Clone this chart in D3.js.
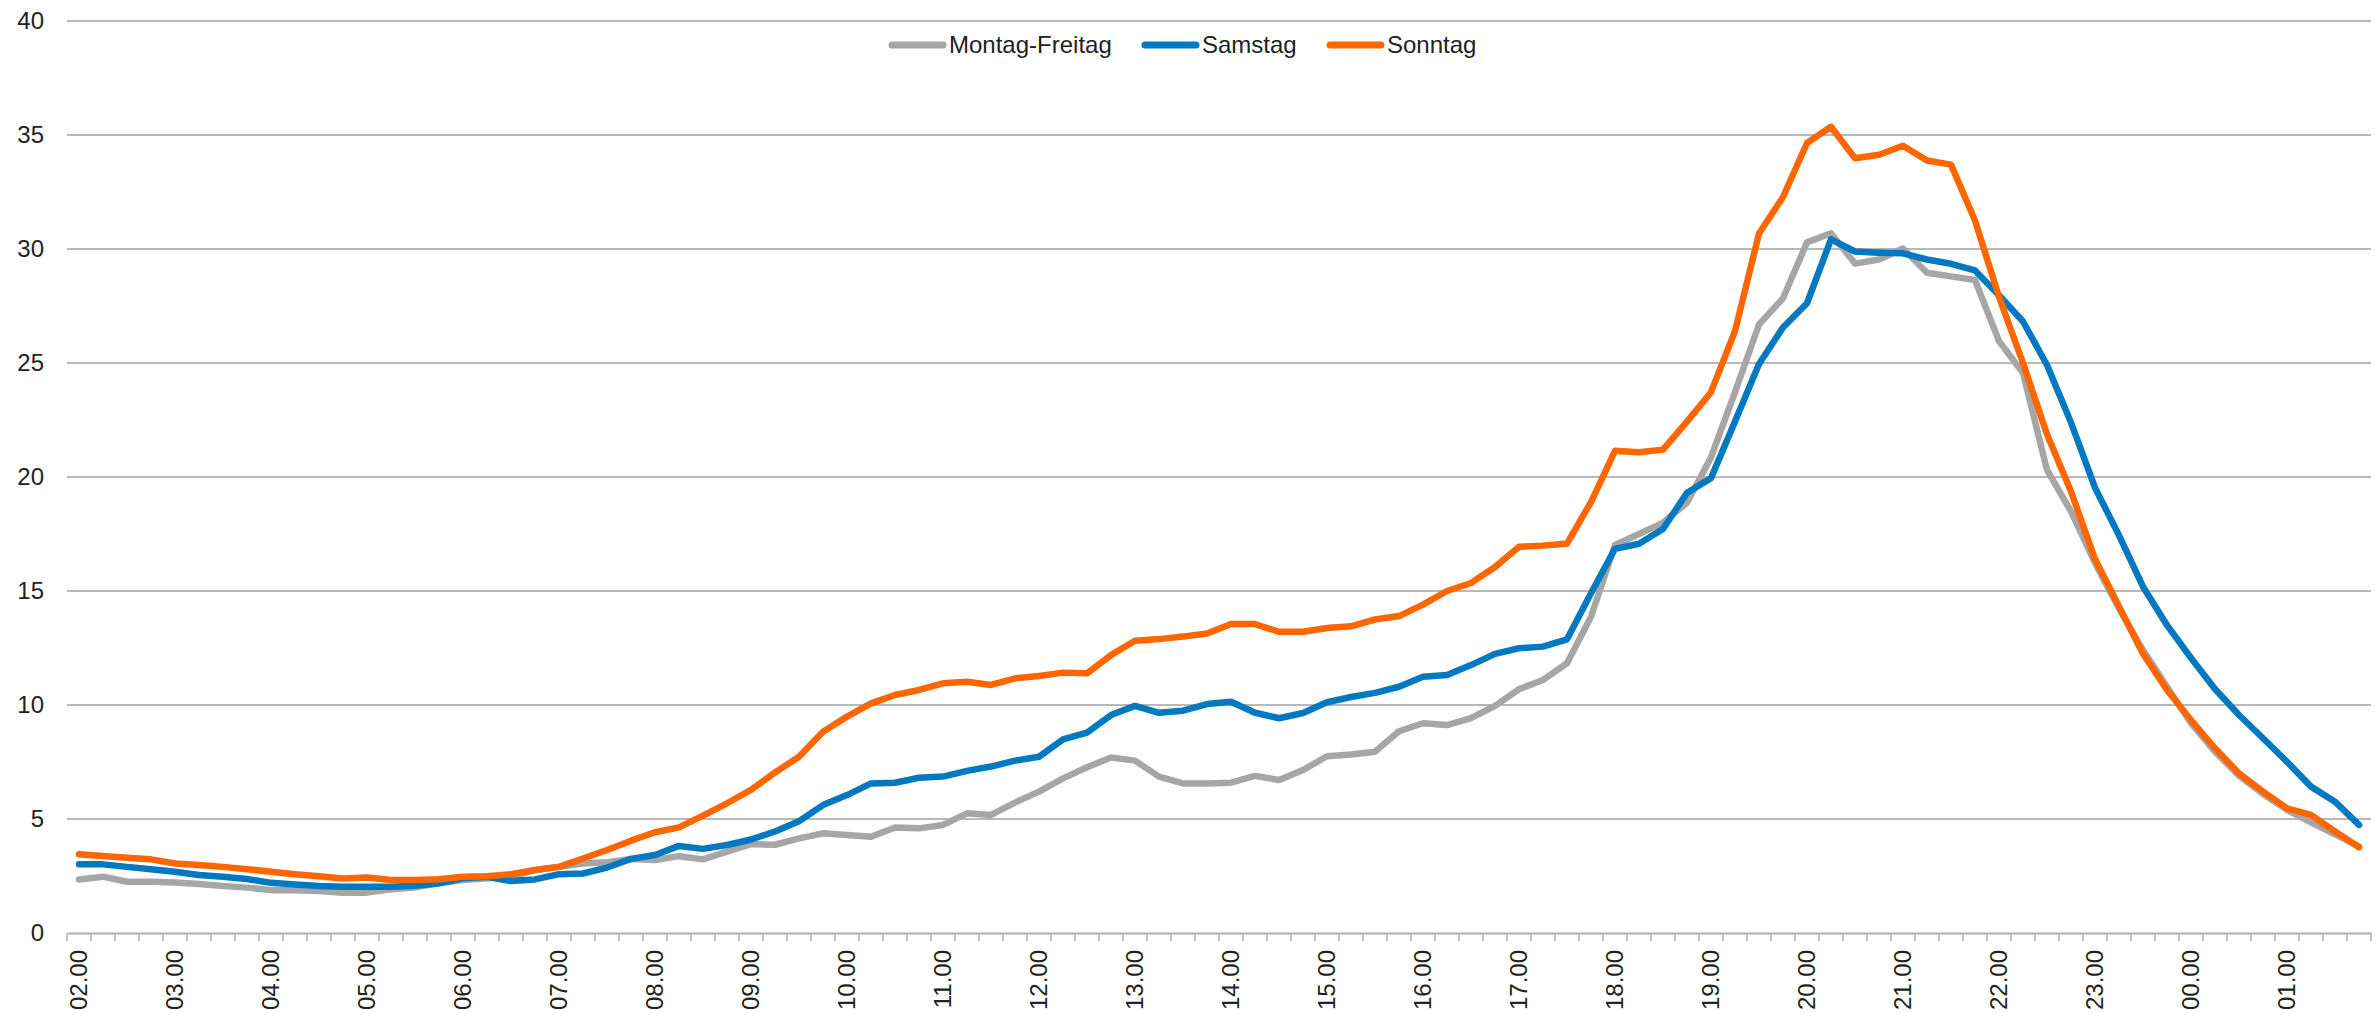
<!DOCTYPE html>
<html lang="de">
<head>
    <meta charset="utf-8">
    <title>Tagesverlauf</title>
    <script src="https://d3js.org/d3.v7.min.js"></script>
    <style>
        body { margin: 0; background: #fff; }
        text { font-family: "Liberation Sans", Arial, sans-serif; fill: #222; }
    </style>
</head>
<body>
<script type="text/javascript">
    // hour labels on the x axis, one category every 15 minutes
    var hourLabels = ["02.00", "03.00", "04.00", "05.00", "06.00", "07.00", "08.00", "09.00",
        "10.00", "11.00", "12.00", "13.00", "14.00", "15.00", "16.00", "17.00",
        "18.00", "19.00", "20.00", "21.00", "22.00", "23.00", "00.00", "01.00"];
    var quarters = ["00", "15", "30", "45"];

    var seriesNames = ["Montag-Freitag", "Samstag", "Sonntag"];
    var seriesColors = ["#a6a6a6", "#0079c1", "#ff6600"];

    var montagFreitag = [
        2.35, 2.47, 2.25, 2.25, 2.22, 2.15, 2.06, 1.99, 1.88, 1.88, 1.84, 1.77,
        1.77, 1.92, 2.00, 2.18, 2.32, 2.40, 2.47, 2.76, 2.90, 3.05, 3.10, 3.25,
        3.20, 3.37, 3.23, 3.57, 3.90, 3.87, 4.15, 4.37, 4.30, 4.22, 4.63, 4.59,
        4.74, 5.25, 5.18, 5.72, 6.20, 6.78, 7.27, 7.70, 7.56, 6.86, 6.56, 6.56,
        6.59, 6.89, 6.71, 7.15, 7.75, 7.83, 7.95, 8.85, 9.20, 9.12, 9.42, 9.96,
        10.69, 11.10, 11.83, 13.87, 17.02, 17.50, 18.00, 18.87, 20.86, 23.72, 26.69, 27.84,
        30.29, 30.69, 29.36, 29.54, 30.02, 28.96, 28.80, 28.64, 25.96, 24.56, 20.31, 18.49,
        16.23, 14.23, 12.41, 10.80, 9.20, 7.95, 6.90, 6.10, 5.40, 4.85, 4.33, 3.80];

    var samstag = [
        3.01, 3.01, 2.90, 2.80, 2.69, 2.54, 2.47, 2.37, 2.20, 2.13, 2.06, 2.03,
        2.03, 2.03, 2.07, 2.18, 2.40, 2.47, 2.28, 2.35, 2.58, 2.61, 2.87, 3.25,
        3.42, 3.82, 3.69, 3.86, 4.10, 4.45, 4.90, 5.61, 6.05, 6.56, 6.59, 6.81,
        6.86, 7.11, 7.30, 7.56, 7.73, 8.49, 8.79, 9.56, 9.96, 9.66, 9.75, 10.04,
        10.14, 9.66, 9.42, 9.65, 10.12, 10.35, 10.53, 10.80, 11.24, 11.32, 11.75, 12.24,
        12.49, 12.56, 12.88, 14.90, 16.85, 17.07, 17.72, 19.31, 19.95, 22.43, 24.96, 26.56,
        27.62, 30.42, 29.89, 29.84, 29.81, 29.54, 29.35, 29.06, 27.97, 26.82, 24.91, 22.39,
        19.53, 17.44, 15.19, 13.50, 12.06, 10.70, 9.56, 8.54, 7.51, 6.42, 5.76, 4.74];

    var sonntag = [
        3.45, 3.38, 3.30, 3.23, 3.05, 2.98, 2.90, 2.80, 2.69, 2.58, 2.49, 2.39,
        2.43, 2.32, 2.33, 2.36, 2.47, 2.49, 2.58, 2.76, 2.90, 3.27, 3.64, 4.05,
        4.42, 4.63, 5.15, 5.69, 6.28, 7.04, 7.73, 8.83, 9.49, 10.07, 10.44, 10.66,
        10.95, 11.02, 10.88, 11.17, 11.27, 11.42, 11.39, 12.19, 12.82, 12.89, 13.00, 13.14,
        13.55, 13.55, 13.21, 13.21, 13.38, 13.45, 13.75, 13.90, 14.40, 15.00, 15.35, 16.05,
        16.94, 16.99, 17.08, 18.90, 21.15, 21.09, 21.20, 22.43, 23.72, 26.40, 30.68, 32.28,
        34.65, 35.36, 33.98, 34.13, 34.53, 33.88, 33.70, 31.25, 27.90, 25.00, 21.87, 19.36,
        16.40, 14.32, 12.25, 10.66, 9.34, 8.10, 7.00, 6.20, 5.47, 5.18, 4.45, 3.76];

    var yTicks = [0, 5, 10, 15, 20, 25, 30, 35, 40];

    // categories 02.00, 02.15, ... 01.45
    var categories = [];
    hourLabels.forEach(function(h) {
        quarters.forEach(function(q) {
            categories.push(h.slice(0, 2) + "." + q);
        });
    });

    var width = 2379, height = 1012;
    var plotLeft = 67, plotRight = 2371, plotTop = 21, plotBottom = 933;

    var svg = d3.select("body")
            .append("svg")
            .attr("width", width)
            .attr("height", height);

    var x = d3.scaleBand()
            .domain(categories)
            .range([plotLeft, plotRight]);

    var y = d3.scaleLinear()
            .domain([0, 40])
            .range([plotBottom, plotTop]);

    // horizontal gridlines
    svg.append("g")
        .selectAll("line")
        .data(yTicks.filter(function(d) { return d > 0; }))
        .enter()
        .append("line")
        .attr("x1", plotLeft)
        .attr("x2", plotRight)
        .attr("y1", function(d) { return y(d); })
        .attr("y2", function(d) { return y(d); })
        .attr("stroke", "#a0a0a0")
        .attr("stroke-width", 1.5);

    // y labels
    svg.append("g")
        .selectAll("text")
        .data(yTicks)
        .enter()
        .append("text")
        .attr("x", 44)
        .attr("y", function(d) { return y(d); })
        .attr("dy", "0.35em")
        .attr("text-anchor", "end")
        .attr("font-size", "24px")
        .text(function(d) { return d; });

    // x axis: line, ticks between categories, hourly labels
    var xAxis = d3.axisBottom(x)
            .tickSize(0)
            .tickFormat("");

    var gx = svg.append("g")
            .attr("transform", "translate(0," + plotBottom + ")")
            .call(xAxis);
    gx.select(".domain")
        .attr("stroke", "#b0b0b0")
        .attr("stroke-width", 2);

    var boundaries = categories.map(function(c) { return x(c); }).concat([plotRight]);
    gx.selectAll(".qtick")
        .data(boundaries)
        .enter()
        .append("line")
        .attr("class", "qtick")
        .attr("x1", function(d) { return d; })
        .attr("x2", function(d) { return d; })
        .attr("y1", 0)
        .attr("y2", 8)
        .attr("stroke", "#b0b0b0")
        .attr("stroke-width", 1.5);

    svg.append("g")
        .selectAll("text")
        .data(hourLabels)
        .enter()
        .append("text")
        .attr("transform", function(d) {
            var cx = x(d) + x.bandwidth() / 2;
            return "translate(" + cx + ",950) rotate(-90)";
        })
        .attr("dy", "0.35em")
        .attr("text-anchor", "end")
        .attr("font-size", "24px")
        .text(function(d) { return d; });

    // the three lines, weekday first so Sunday lies on top
    var line = d3.line()
            .x(function(d, i) { return x(categories[i]) + x.bandwidth() / 2; })
            .y(function(d) { return y(d); });

    var allSeries = [montagFreitag, samstag, sonntag];
    svg.append("g")
        .selectAll("path")
        .data(allSeries)
        .enter()
        .append("path")
        .attr("d", line)
        .attr("fill", "none")
        .attr("stroke", function(d, i) { return seriesColors[i]; })
        .attr("stroke-width", 6.5)
        .attr("stroke-linejoin", "round")
        .attr("stroke-linecap", "round");

    // legend
    var legendX = [889, 1142, 1327];
    var legend = svg.append("g")
            .selectAll("g")
            .data(seriesNames)
            .enter()
            .append("g")
            .attr("transform", function(d, i) { return "translate(" + legendX[i] + ",45)"; });

    legend.append("line")
        .attr("x1", 3)
        .attr("x2", 54)
        .attr("stroke", function(d, i) { return seriesColors[i]; })
        .attr("stroke-width", 7)
        .attr("stroke-linecap", "round");

    legend.append("text")
        .attr("x", 60)
        .attr("dy", "0.35em")
        .attr("font-size", "24px")
        .text(function(d) { return d; });
</script>
</body>
</html>
